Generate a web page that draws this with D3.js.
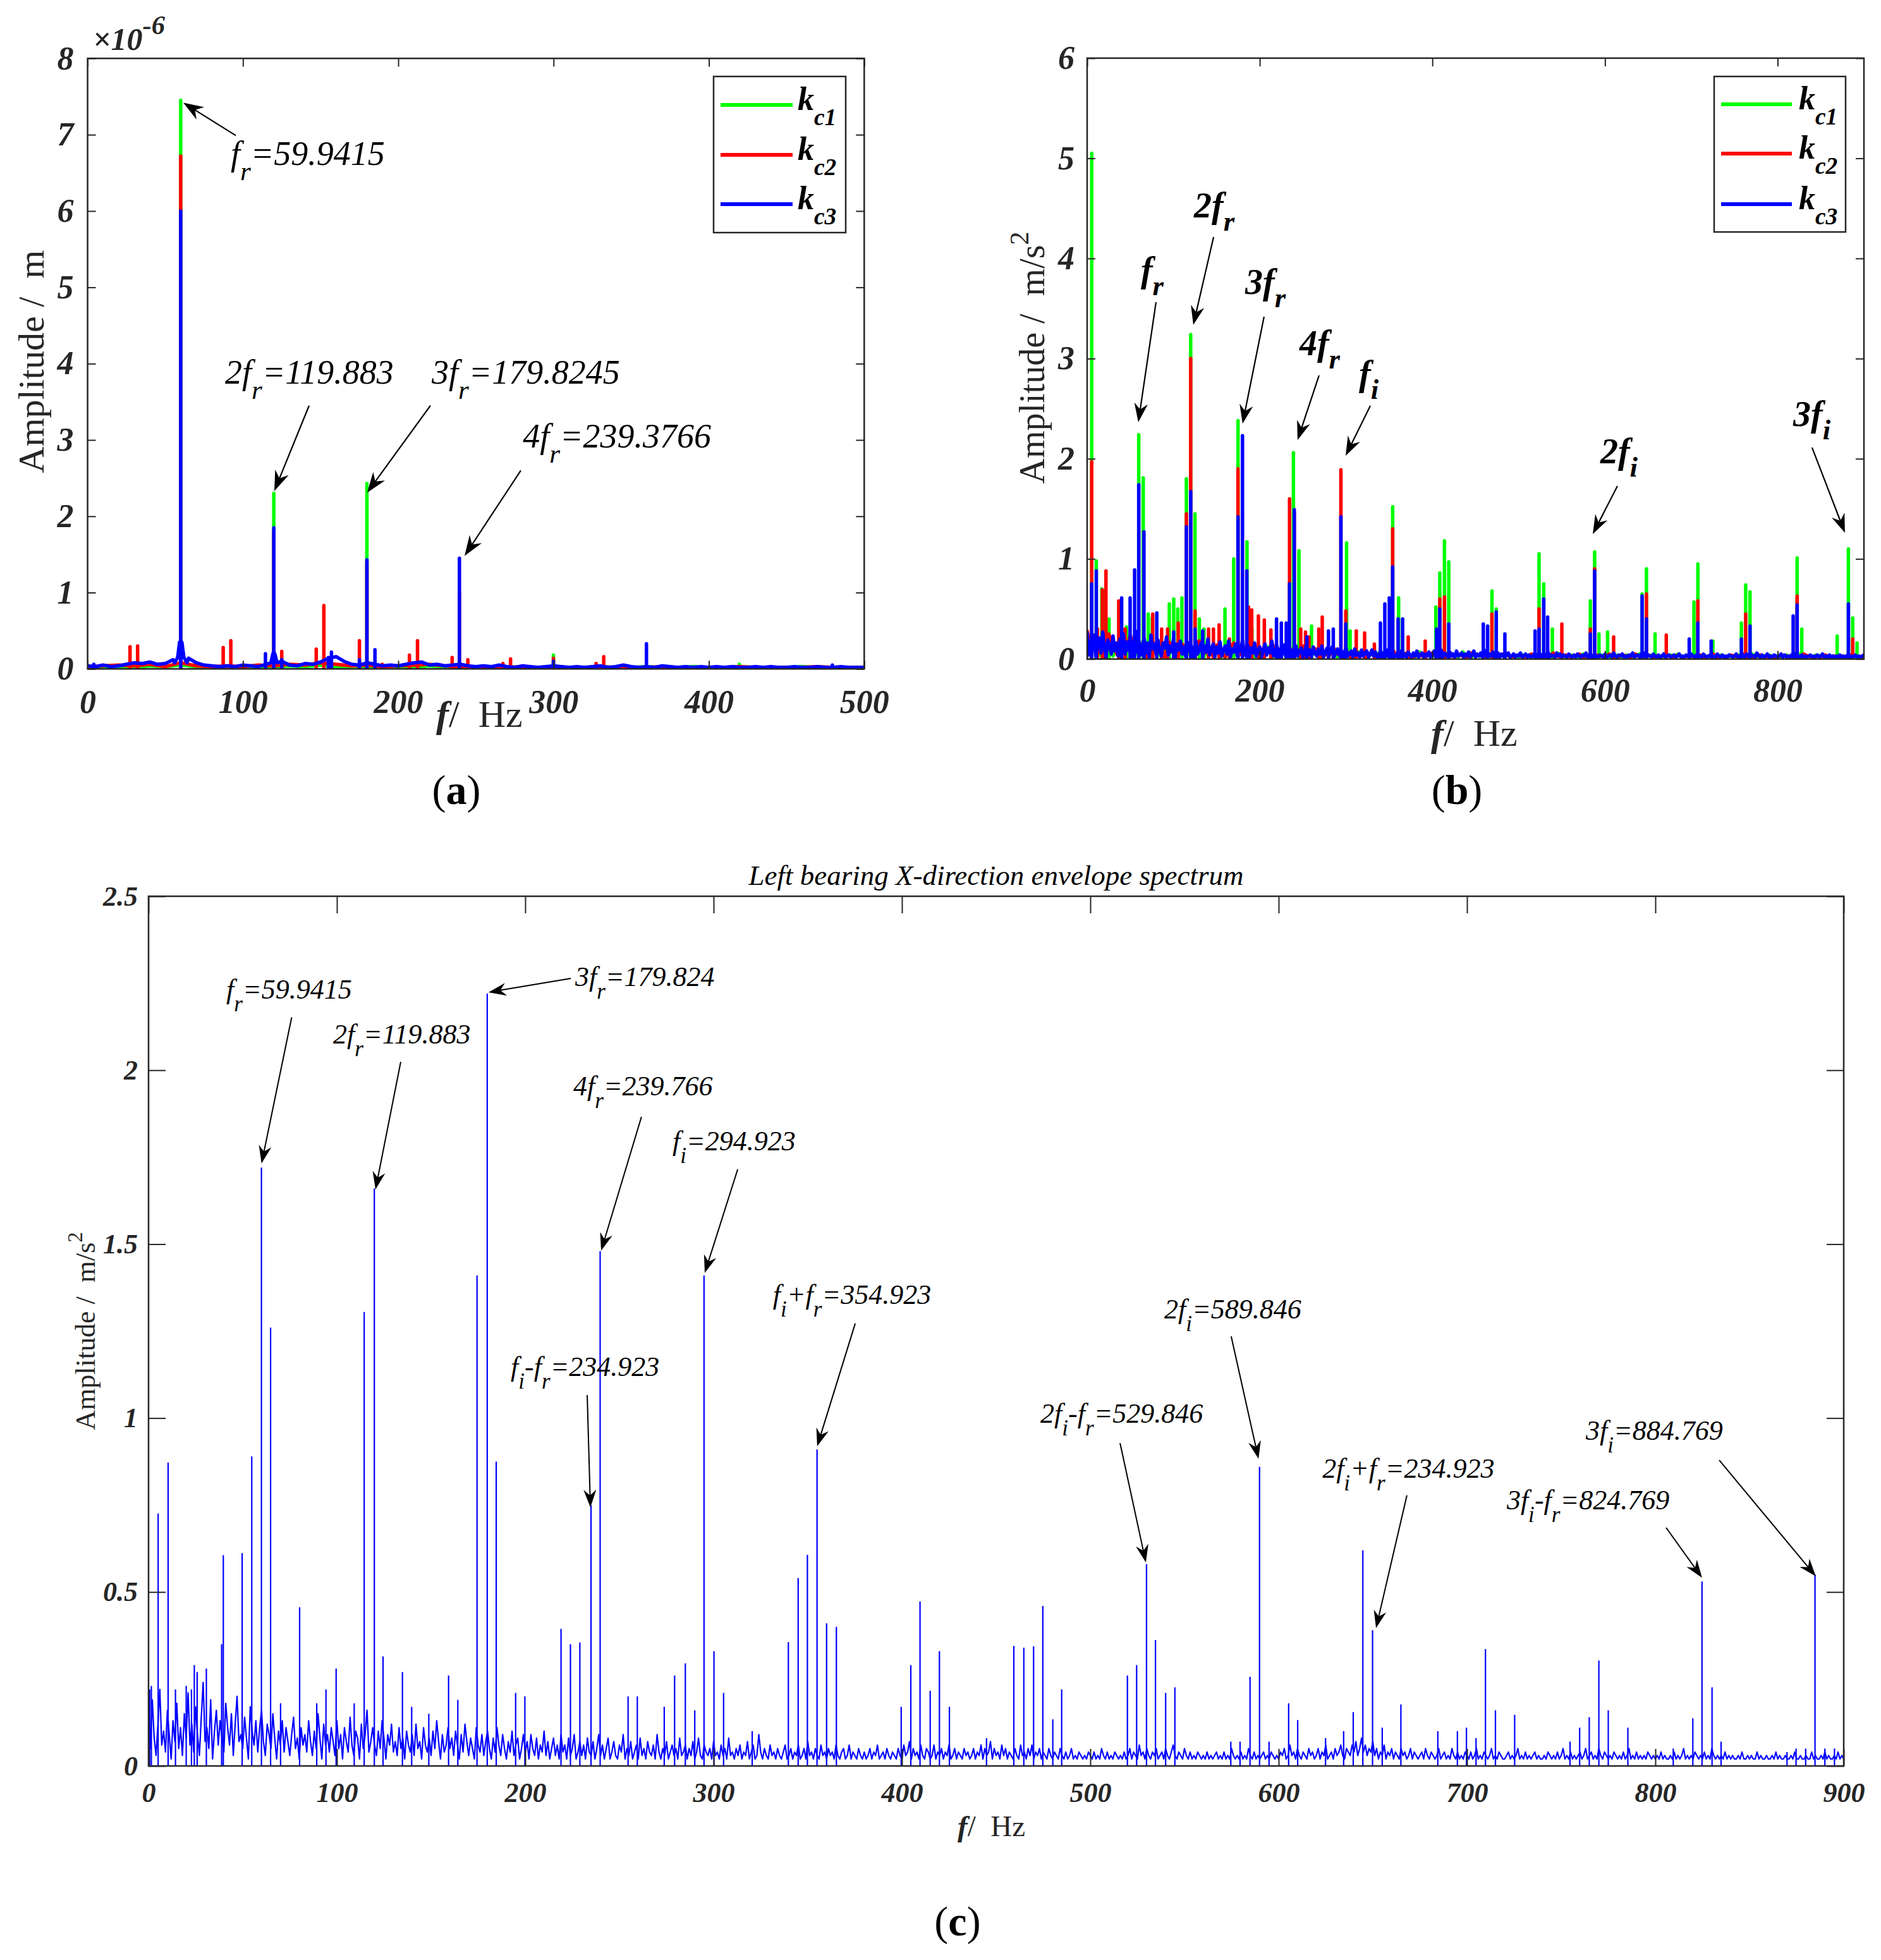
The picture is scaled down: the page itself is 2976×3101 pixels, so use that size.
<!DOCTYPE html>
<html>
<head>
<meta charset="utf-8">
<script src="https://cdn.jsdelivr.net/npm/d3@7/dist/d3.min.js"></script>
<style>
  body { margin: 0; background: #fff; }
  svg { display: block; }
</style>
</head>
<body>
<svg id="fig"></svg>
<script>
// ---------------------------------------------------------------------------
// Data
// ---------------------------------------------------------------------------

// (a) displacement spectrum, amplitude in 1e-6 m
const aXTicks = [0, 100, 200, 300, 400, 500];
const aYTicks = [0, 1, 2, 3, 4, 5, 6, 7, 8];
// noise floor, hundredths of 1e-6 m, blue every 5 Hz, green/red every 10 Hz
const aNoiseBlue = [4, 3, 5, 3, 4, 6, 8, 7, 9, 6, 7, 12, 10, 14, 8, 5, 4, 3, 4, 3,
  5, 4, 3, 6, 8, 10, 5, 4, 7, 6, 9, 14, 16, 10, 6, 5, 8, 6, 4, 5,
  4, 6, 8, 9, 5, 6, 4, 5, 6, 4, 3, 4, 3, 5, 3, 2, 4, 3, 2, 3,
  4, 3, 2, 3, 2, 3, 4, 2, 3, 5, 3, 2, 3, 2, 4, 3, 2, 3, 2, 3,
  2, 3, 2, 3, 2, 2, 3, 2, 3, 2, 2, 3, 2, 2, 3, 2, 2, 3, 2, 2, 2];
const aNoiseGreen = [2, 3, 3, 2, 4, 3, 5, 3, 2, 3, 3, 2, 3, 4, 3, 5, 3, 2, 3, 2,
  3, 2, 4, 3, 2, 3, 2, 3, 2, 2, 3, 2, 2, 3, 2, 2, 3, 2, 2, 3, 2, 2, 3, 2, 2, 2, 3, 2, 2, 2, 2];
const aNoiseRed = [3, 4, 5, 4, 6, 3, 8, 4, 3, 4, 3, 5, 4, 6, 5, 8, 6, 4, 5, 3,
  4, 5, 6, 4, 3, 2, 3, 2, 3, 2, 3, 2, 2, 3, 2, 2, 2, 3, 2, 2, 2, 2, 3, 2, 2, 2, 2, 3, 2, 2, 2];
const aSkirtBlue = [[56, 0.08], [58, 0.15], [59.2, 0.35], [60.7, 0.35], [62, 0.15], [64, 0.08],
  [118, 0.08], [119.3, 0.2], [120.5, 0.2], [122, 0.08]];
const aPeaksGreen = [[59.94, 7.45], [119.88, 2.3], [179.82, 2.43], [299.9, 0.18], [419.6, 0.06]];
const aPeaksRed = [[27.3, 0.29], [32.2, 0.3], [59.94, 6.72], [87.3, 0.28], [92.2, 0.37], [119.88, 1.8], [125, 0.23],
  [147.2, 0.26], [152.1, 0.83], [175, 0.37], [179.82, 1.4], [189.7, 0.06], [207.2, 0.18], [212.4, 0.37],
  [234.7, 0.15], [239.38, 1.0], [244.8, 0.12], [267.4, 0.07], [272.3, 0.13], [299.9, 0.14], [327.4, 0.07], [332.3, 0.16]];
const aPeaksBlue = [[4, 0.06], [59.94, 6.0], [114.5, 0.2], [119.88, 1.85], [125, 0.12], [155, 0.15], [157, 0.22],
  [175, 0.12], [179.82, 1.43], [185, 0.25], [239.38, 1.45], [299.9, 0.1], [359.8, 0.33], [479.5, 0.05]];

// (b) acceleration spectrum, m/s^2
const bXTicks = [0, 200, 400, 600, 800];
const bYTicks = [0, 1, 2, 3, 4, 5, 6];
// noise floor in hundredths of m/s^2: blue every 2 Hz, green/red every 5 Hz
const bNoiseBlue = [
  26, 4, 18, 9, 24, 3, 15, 21, 6, 27, 11, 2, 19, 14, 5, 23, 8, 16, 3, 20,
  12, 25, 5, 17, 9, 22, 2, 14, 28, 7, 18, 4, 13, 21, 6, 16, 2, 24, 10, 15,
  5, 19, 8, 3, 16, 11, 22, 4, 13, 7, 20, 2, 15, 9, 18, 5, 12, 3, 17, 8,
  14, 2, 11, 18, 5, 9, 16, 3, 13, 7, 20, 4, 10, 15, 2, 12, 6, 17, 3, 9,
  13, 5, 18, 2, 10, 7, 15, 3, 12, 8, 19, 4, 9, 14, 2, 11, 6, 16, 3, 8,
  12, 2, 9, 15, 4, 11, 6, 18, 3, 8, 13, 2, 10, 5, 14, 3, 7, 12, 2, 9,
  5, 13, 3, 8, 11, 2, 7, 14, 4, 9, 2, 12, 6, 3, 10, 5, 13, 2, 7, 11,
  3, 8, 12, 2, 6, 10, 4, 9, 2, 7, 11, 3, 5, 8, 2, 10, 4, 6, 2, 9,
  3, 6, 8, 2, 5, 9, 3, 7, 2, 4, 8, 2, 6, 3, 9, 2, 5, 7, 2, 4,
  6, 2, 8, 3, 5, 2, 7, 4, 2, 6, 3, 8, 2, 4, 6, 2, 5, 3, 7, 2,
  4, 8, 2, 5, 3, 9, 2, 6, 4, 2, 7, 3, 5, 2, 8, 3, 4, 6, 2, 5,
  3, 7, 2, 4, 8, 2, 5, 3, 6, 2, 9, 4, 2, 5, 3, 7, 2, 4, 6, 2,
  5, 3, 2, 4, 6, 2, 3, 5, 2, 4, 3, 6, 2, 3, 5, 2, 4, 2, 3, 5,
  2, 4, 6, 3, 2, 5, 3, 7, 2, 4, 3, 2, 6, 3, 5, 2, 4, 3, 2, 5,
  3, 2, 4, 2, 5, 3, 2, 4, 3, 6, 2, 3, 4, 2, 5, 3, 2, 4, 3, 2,
  5, 2, 3, 4, 2, 6, 3, 2, 4, 3, 5, 2, 3, 2, 4, 3, 6, 2, 3, 4,
  2, 5, 3, 6, 2, 4, 3, 2, 5, 3, 2, 4, 2, 3, 5, 2, 3, 4, 2, 3,
  4, 2, 3, 5, 2, 3, 2, 4, 3, 2, 5, 3, 2, 4, 2, 3, 2, 5, 3, 2,
  3, 4, 2, 3, 2, 5, 3, 2, 4, 2, 3, 2, 4, 3, 2, 3, 5, 2, 3, 2,
  4, 2, 5, 3, 2, 4, 3, 2, 6, 3, 2, 4, 2, 3, 5, 2, 3, 2, 4, 3,
  2, 3, 5, 2, 4, 2, 3, 2, 4, 3, 5, 2, 3, 2, 4, 2, 3, 2, 3, 4,
  2, 3, 2, 4, 2, 3, 5, 2, 3, 2, 4, 2, 3, 2, 3, 2, 4, 2, 3, 2,
  3, 5, 2, 3, 2, 4, 2, 3, 2, 3, 4];
const bNoiseGreen = [
  24, 8, 18, 4, 21, 12, 3, 16, 9, 26, 5, 14, 2, 19, 10, 6, 15, 3, 11, 7,
  13, 4, 9, 16, 2, 10, 6, 14, 3, 8, 12, 2, 7, 15, 4, 9, 3, 11, 6, 2,
  9, 4, 12, 2, 7, 10, 3, 6, 2, 11, 5, 8, 3, 9, 2, 6, 4, 10, 2, 5,
  6, 3, 2, 7, 4, 2, 5, 3, 8, 2, 4, 3, 6, 2, 5, 3, 2, 7, 3, 4,
  3, 5, 2, 6, 3, 4, 2, 7, 3, 2, 5, 3, 4, 2, 6, 2, 3, 5, 2, 4,
  2, 4, 3, 2, 5, 2, 3, 4, 2, 6, 3, 2, 4, 3, 2, 5, 3, 2, 3, 4,
  3, 2, 5, 3, 2, 4, 2, 3, 5, 2, 3, 4, 2, 3, 2, 4, 3, 5, 2, 3,
  2, 4, 3, 2, 3, 5, 2, 4, 2, 3, 2, 4, 3, 2, 5, 3, 2, 3, 4, 2,
  3, 2, 4, 2, 3, 5, 2, 3, 2, 4, 3, 2, 3, 2, 4, 2, 3, 2, 3, 2,
  2];
const bNoiseRed = [
  28, 6, 22, 10, 3, 25, 14, 4, 19, 8, 24, 5, 16, 11, 3, 20, 7, 13, 2, 17,
  9, 3, 15, 6, 12, 2, 18, 5, 10, 4, 14, 7, 2, 11, 16, 3, 8, 13, 4, 9,
  12, 3, 7, 14, 2, 9, 5, 11, 3, 8, 13, 2, 6, 10, 4, 7, 2, 12, 5, 3,
  8, 2, 5, 3, 7, 2, 6, 4, 2, 5, 3, 8, 2, 4, 6, 2, 3, 5, 2, 4,
  6, 2, 4, 3, 7, 2, 5, 3, 2, 6, 3, 4, 2, 5, 3, 2, 4, 6, 2, 3,
  4, 2, 3, 5, 2, 4, 3, 2, 6, 3, 2, 4, 2, 3, 5, 2, 3, 2, 4, 3,
  2, 5, 3, 2, 4, 3, 2, 5, 2, 3, 4, 2, 3, 2, 5, 3, 2, 4, 2, 3,
  3, 2, 4, 2, 3, 5, 2, 3, 2, 4, 3, 2, 5, 3, 2, 3, 4, 2, 3, 2,
  2, 4, 3, 2, 3, 2, 5, 3, 2, 3, 2, 4, 2, 3, 2, 3, 2, 4, 3, 2,
  3];
const bPeaksGreen = [[5.3, 5.05], [10.6, 0.98], [17, 0.7], [19, 0.68], [25.4, 0.4], [45.5, 0.32], [59.8, 2.24],
  [65, 1.81], [70.8, 0.45], [75.4, 0.41], [95.2, 0.55], [100.3, 0.6], [105, 0.5], [109.8, 0.61], [115, 1.8],
  [120, 3.24], [125, 1.45], [130, 0.4], [135.3, 0.3], [159.7, 0.5], [169.8, 1.0], [174.8, 2.38], [185.2, 1.17],
  [191, 0.3], [239, 2.06], [245.4, 1.08], [260, 0.33], [300.6, 1.16], [304.7, 0.28], [354, 1.52], [360.9, 0.61],
  [404, 0.52], [408.6, 0.86], [414, 1.18], [419, 0.97], [469, 0.68], [474, 0.5], [523.6, 1.05], [529, 0.75],
  [539, 0.3], [583, 0.58], [588, 1.07], [593, 0.25], [603, 0.27], [643, 0.65], [648, 0.9], [658, 0.25],
  [703, 0.57], [707.6, 0.95], [725, 0.18], [758, 0.36], [763, 0.74], [768, 0.67], [822.6, 1.01], [828, 0.3],
  [869, 0.23], [882, 1.1], [887, 0.41], [892, 0.16]];
const bPeaksRed = [[5.3, 1.97], [12, 0.3], [17.6, 0.69], [21.8, 0.88], [36.6, 0.58], [44, 0.3], [68, 0.15],
  [76, 0.45], [86.3, 0.3], [93.2, 0.3], [105.5, 0.36], [115, 1.45], [120, 3.0], [125, 0.48], [140.7, 0.3],
  [146.3, 0.3], [152.9, 0.34], [164.8, 0.2], [174.8, 1.9], [187, 0.52], [190.7, 0.49], [198.4, 0.43],
  [205.3, 0.39], [212.9, 0.29], [234.5, 1.6], [240, 1.45], [247.5, 0.3], [253, 0.27], [257, 0.22],
  [268.4, 0.3], [272.4, 0.42], [294, 1.89], [299.7, 0.48], [311.8, 0.28], [321.5, 0.26], [332.8, 0.15],
  [354, 1.3], [372, 0.22], [391.7, 0.18], [408.6, 0.6], [414, 0.62], [469, 0.45], [523.6, 0.5], [550, 0.35],
  [583, 0.3], [588, 0.9], [610, 0.22], [648, 0.65], [671, 0.24], [707.6, 0.58], [763, 0.45], [822.6, 0.63], [887, 0.2]];
const bPeaksBlue = [[5.3, 0.75], [10.6, 0.88], [40, 0.61], [49.8, 0.61], [55, 0.89], [59.8, 1.74], [65.8, 1.27],
  [80.7, 0.46], [100.3, 0.27], [115, 1.32], [120, 1.67], [125, 0.3], [133.9, 0.28], [174.8, 1.42], [180, 2.23],
  [185, 0.88], [219.4, 0.4], [225, 0.36], [230.7, 0.36], [234.5, 0.75], [240, 1.49], [254.6, 0.22],
  [279.6, 0.28], [285.2, 0.3], [294, 1.42], [299.7, 0.35], [339.8, 0.36], [344.9, 0.55], [350.1, 0.61],
  [354, 0.92], [360.3, 0.4], [365.5, 0.4], [404.9, 0.3], [408.6, 0.5], [419, 0.35], [459, 0.35], [464, 0.33],
  [474, 0.47], [484, 0.25], [519, 0.28], [523.6, 0.3], [529, 0.6], [533.5, 0.42], [583, 0.25], [588, 0.88],
  [643, 0.63], [648, 0.4], [697.6, 0.2], [707.6, 0.36], [723, 0.18], [758, 0.2], [768, 0.33], [818, 0.43],
  [822.6, 0.54], [882, 0.55]];

// (c) envelope spectrum, m/s^2
const cXTicks = [0, 100, 200, 300, 400, 500, 600, 700, 800, 900];
const cYTicks = [0, 0.5, 1, 1.5, 2, 2.5];
// noise floor every 1 Hz, hundredths of m/s^2
const cNoise = [
  14, 5, 19, 8, 3, 12, 22, 6, 10, 4, 16, 9, 2, 13, 7, 18, 5, 11, 3, 15,
  8, 21, 6, 12, 4, 17, 9, 3, 14, 24, 7, 11, 5, 19, 2, 10, 16, 6, 13, 8,
  4, 18, 11, 6, 15, 3, 12, 20, 7, 9, 5, 14, 8, 2, 17, 10, 6, 13, 4, 11,
  16, 7, 3, 12, 9, 5, 15, 8, 2, 10, 6, 13, 4, 11, 7, 3, 9, 14, 5, 8,
  2, 11, 6, 9, 4, 13, 7, 3, 10, 5, 15, 8, 2, 12, 6, 9, 4, 11, 7, 3,
  13, 5, 9, 2, 11, 7, 4, 14, 6, 3, 10, 8, 2, 12, 5, 9, 16, 4, 7, 11,
  6, 3, 10, 5, 13, 8, 2, 9, 6, 12, 4, 7, 3, 11, 5, 8, 2, 10, 6, 4,
  9, 3, 12, 5, 7, 2, 11, 6, 4, 8, 3, 10, 5, 13, 7, 2, 9, 4, 6, 11,
  5, 8, 3, 10, 6, 2, 9, 4, 12, 7, 3, 8, 5, 2, 11, 6, 4, 9, 3, 7,
  10, 5, 2, 8, 4, 11, 6, 3, 9, 5, 2, 7, 4, 10, 3, 6, 8, 2, 5, 9,
  4, 7, 2, 9, 5, 3, 8, 2, 6, 4, 10, 3, 7, 2, 5, 8, 3, 6, 2, 9,
  4, 6, 2, 8, 3, 5, 9, 2, 4, 7, 3, 6, 2, 8, 4, 3, 7, 2, 5, 9,
  3, 6, 2, 5, 8, 2, 4, 7, 3, 2, 6, 4, 9, 2, 5, 3, 7, 2, 4, 6,
  2, 8, 3, 5, 2, 7, 4, 3, 6, 2, 9, 4, 2, 5, 3, 7, 2, 4, 6, 3,
  5, 2, 8, 3, 4, 6, 2, 5, 3, 7, 2, 4, 8, 3, 2, 6, 4, 3, 5, 2,
  7, 3, 4, 2, 6, 3, 5, 2, 8, 3, 4, 2, 5, 3, 6, 2, 4, 3, 7, 2,
  4, 6, 2, 3, 9, 4, 2, 5, 3, 2, 6, 3, 4, 2, 5, 3, 2, 4, 6, 2,
  3, 5, 2, 4, 3, 6, 2, 3, 5, 2, 7, 3, 4, 2, 5, 3, 2, 6, 3, 4,
  2, 5, 3, 4, 2, 6, 3, 2, 4, 5, 2, 3, 6, 2, 4, 3, 2, 5, 3, 2,
  4, 2, 3, 5, 2, 4, 3, 6, 2, 3, 4, 2, 5, 3, 2, 4, 3, 2, 5, 3,
  2, 6, 3, 4, 7, 2, 5, 3, 4, 2, 6, 3, 2, 5, 4, 2, 3, 6, 2, 4,
  3, 5, 2, 4, 3, 6, 2, 3, 5, 2, 4, 3, 2, 5, 3, 4, 2, 3, 5, 2,
  4, 3, 6, 2, 5, 3, 4, 7, 2, 5, 3, 4, 2, 6, 3, 5, 2, 4, 3, 2,
  5, 3, 2, 6, 3, 4, 2, 5, 3, 6, 2, 4, 3, 5, 2, 4, 3, 2, 5, 3,
  2, 4, 3, 2, 5, 3, 2, 4, 2, 3, 5, 2, 3, 2, 4, 3, 2, 3, 2, 4,
  3, 2, 4, 2, 3, 2, 5, 3, 2, 4, 2, 3, 2, 4, 3, 2, 3, 2, 4, 2,
  3, 5, 2, 4, 3, 2, 6, 3, 4, 2, 5, 3, 2, 4, 3, 5, 2, 3, 4, 2,
  5, 3, 2, 4, 6, 3, 2, 4, 3, 2, 5, 3, 2, 4, 2, 3, 2, 4, 3, 2,
  3, 2, 4, 2, 3, 2, 3, 4, 2, 3, 2, 4, 2, 3, 2, 5, 3, 2, 3, 2,
  4, 2, 3, 2, 5, 3, 2, 4, 2, 3, 2, 3, 4, 2, 3, 2, 4, 3, 2, 3,
  2, 4, 3, 5, 2, 3, 6, 3, 4, 2, 5, 3, 2, 4, 3, 2, 5, 3, 4, 2,
  3, 5, 2, 4, 3, 6, 2, 3, 4, 2, 5, 3, 4, 6, 3, 2, 5, 4, 3, 6,
  4, 7, 3, 5, 8, 4, 6, 3, 5, 4, 7, 3, 5, 2, 4, 3, 6, 2, 4, 3,
  5, 2, 4, 3, 2, 5, 3, 4, 2, 3, 5, 2, 4, 3, 2, 3, 4, 2, 5, 3,
  2, 4, 3, 2, 3, 5, 2, 3, 4, 2, 3, 2, 5, 3, 2, 4, 2, 3, 2, 4,
  3, 2, 4, 2, 3, 5, 2, 3, 2, 4, 3, 2, 3, 5, 2, 3, 2, 4, 3, 2,
  2, 3, 4, 2, 3, 2, 3, 5, 2, 3, 2, 4, 2, 3, 2, 3, 4, 2, 3, 2,
  2, 3, 2, 4, 3, 2, 3, 2, 4, 2, 3, 5, 2, 3, 2, 4, 2, 3, 2, 3,
  4, 2, 3, 5, 2, 3, 4, 2, 3, 2, 5, 3, 2, 4, 3, 2, 3, 2, 4, 3,
  2, 3, 2, 4, 2, 3, 5, 2, 3, 2, 4, 2, 3, 2, 3, 2, 4, 3, 2, 3,
  2, 3, 2, 4, 2, 3, 2, 2, 3, 2, 4, 2, 3, 2, 3, 5, 2, 3, 2, 3,
  2, 4, 3, 2, 3, 2, 4, 2, 3, 2, 5, 3, 2, 3, 2, 3, 2, 4, 2, 3,
  2, 3, 2, 2, 3, 2, 4, 2, 2, 3, 2, 3, 2, 2, 4, 2, 3, 2, 2, 3,
  2, 2, 3, 2, 4, 2, 3, 2, 2, 3, 2, 2, 3, 2, 4, 2, 2, 3, 2, 2,
  3, 2, 2, 4, 2, 3, 2, 2, 3, 2, 4, 2, 3, 2, 2, 3, 2, 4, 2, 3,
  2];
const cPeaks = [[0.6, 0.22], [1.5, 0.23], [5.1, 0.726], [10.4, 0.872], [14.3, 0.22], [20, 0.23], [22.8, 0.22],
  [24.3, 0.29], [25.8, 0.27], [30.7, 0.28], [38.8, 0.35], [39.7, 0.606], [49.7, 0.612], [54.8, 0.89],
  [59.94, 1.72], [64.8, 1.26], [70.1, 0.18], [80.2, 0.456], [89.3, 0.18], [94.2, 0.22], [99.6, 0.28],
  [109.2, 0.18], [114.5, 1.305], [119.88, 1.66], [124.5, 0.315], [134.8, 0.27], [139.7, 0.17], [148.8, 0.15],
  [159.3, 0.26], [164.2, 0.19], [174.4, 1.41], [179.82, 2.22], [184.6, 0.875], [194.9, 0.21], [199.8, 0.2],
  [219, 0.394], [224, 0.35], [229, 0.355], [234.92, 0.75], [239.77, 1.48], [254.6, 0.2], [259.5, 0.2],
  [273.8, 0.17], [279.3, 0.26], [285, 0.295], [290, 0.16], [294.92, 1.41], [300.2, 0.33], [305.3, 0.21],
  [320.5, 0.1], [339.7, 0.356], [344.9, 0.54], [349.8, 0.607], [354.92, 0.91], [360, 0.41], [365.2, 0.4],
  [399.6, 0.17], [404.7, 0.29], [409.6, 0.473], [415, 0.216], [419.9, 0.33], [425.2, 0.17], [444.9, 0.08],
  [459.4, 0.345], [464.7, 0.34], [469.9, 0.344], [474.8, 0.46], [480.1, 0.134], [484.8, 0.22], [519.7, 0.26],
  [524.6, 0.29], [529.85, 0.58], [534.6, 0.362], [540, 0.21], [544.9, 0.226], [574.6, 0.07], [579.5, 0.07],
  [584.8, 0.256], [589.85, 0.86], [594.9, 0.07], [605.3, 0.18], [610.1, 0.132], [624.9, 0.08], [634.5, 0.1],
  [639.6, 0.155], [644.7, 0.62], [649.85, 0.39], [655, 0.11], [664.9, 0.177], [684.5, 0.1], [694.9, 0.1],
  [699.7, 0.11], [704.8, 0.08], [709.8, 0.336], [715.1, 0.16], [725.3, 0.147], [754.7, 0.07], [759.8, 0.11],
  [764.9, 0.14], [770, 0.303], [775, 0.16], [785.4, 0.11], [809.5, 0.05], [819.9, 0.137], [824.77, 0.53],
  [830.1, 0.226], [834.9, 0.07], [869.9, 0.04], [874.7, 0.05], [879.8, 0.05], [884.77, 0.55], [890, 0.05], [895.1, 0.05]];

// annotation labels: text anchor, arrow tail and arrow tip, in data units
const annA = [
  { label: 'f_{r}=59.9415', text: [92.1, 6.6], tail: [95.4, 6.99], tip: [61.6, 7.42] },
  { label: '2f_{r}=119.883', text: [88.5, 3.74], tail: [142.6, 3.45], tip: [120.2, 2.33] },
  { label: '3f_{r}=179.8245', text: [221.5, 3.74], tail: [220.7, 3.45], tip: [180.0, 2.31] },
  { label: '4f_{r}=239.3766', text: [280.2, 2.9], tail: [278.9, 2.6], tip: [242.7, 1.48] }
];
const annB = [
  { label: 'f_{r}', text: [62.2, 3.765], tail: [79.8, 3.563], tip: [59.3, 2.365] },
  { label: '2f_{r}', text: [123.8, 4.409], tail: [146.5, 4.214], tip: [123.0, 3.337] },
  { label: '3f_{r}', text: [183.1, 3.646], tail: [205.0, 3.419], tip: [180.1, 2.351] },
  { label: '4f_{r}', text: [246.0, 3.034], tail: [268.7, 2.832], tip: [243.8, 2.187] },
  { label: 'f_{i}', text: [314.9, 2.731], tail: [328.1, 2.529], tip: [299.5, 2.03] },
  { label: '2f_{i}', text: [594.6, 1.955], tail: [614.4, 1.728], tip: [585.8, 1.248] },
  { label: '3f_{i}', text: [818.0, 2.327], tail: [839.9, 2.112], tip: [878.0, 1.26] }
];
const annC = [
  { label: 'f_{r}=59.9415', text: [41.3, 2.206], tail: [76.0, 2.152], tip: [60.0, 1.732] },
  { label: '2f_{r}=119.883', text: [98.0, 2.077], tail: [133.9, 2.024], tip: [120.5, 1.657] },
  { label: '3f_{r}=179.824', text: [226.5, 2.242], tail: [224.2, 2.264], tip: [180.5, 2.224] },
  { label: '4f_{r}=239.766', text: [225.5, 1.927], tail: [261.7, 1.866], tip: [240.3, 1.481] },
  { label: 'f_{i}=294.923', text: [278.2, 1.77], tail: [312.8, 1.715], tip: [295.3, 1.417] },
  { label: 'f_{i}+f_{r}=354.923', text: [331.5, 1.328], tail: [375.2, 1.272], tip: [355.0, 0.919] },
  { label: 'f_{i}-f_{r}=234.923', text: [192.3, 1.121], tail: [232.9, 1.066], tip: [234.6, 0.743] },
  { label: '2f_{i}-f_{r}=529.846', text: [473.5, 0.987], tail: [515.8, 0.928], tip: [529.5, 0.585] },
  { label: '2f_{i}=589.846', text: [539.3, 1.286], tail: [574.8, 1.235], tip: [589.3, 0.883] },
  { label: '2f_{i}+f_{r}=234.923', text: [623.2, 0.828], tail: [668.1, 0.778], tip: [651.7, 0.396] },
  { label: '3f_{i}-f_{r}=824.769', text: [721.1, 0.738], tail: [805.7, 0.685], tip: [824.8, 0.541] },
  { label: '3f_{i}=884.769', text: [763.1, 0.9375], tail: [833.9, 0.879], tip: [885.2, 0.545] }
];

const legendLabels = ['c1', 'c2', 'c3'];
const seriesColors = ['#00ff00', '#ff0000', '#0000ff'];

// ---------------------------------------------------------------------------
// Drawing
// ---------------------------------------------------------------------------
const W = 2976, H = 3101;
const fontFam = '"Liberation Serif","Times New Roman",Times,serif';
const ink = '#262626';

const svg = d3.select('#fig').attr('width', W).attr('height', H);
svg.append('rect').attr('width', W).attr('height', H).attr('fill', '#fff');
const defs = svg.append('defs');

// text with _{sub} and ^{sup} parts
function rich(t, str, size, ratio = 0.78, shift = 0.42) {
  const parts = str.split(/(_\{[^}]*\}|\^\{[^}]*\})/).filter(s => s.length);
  let cur = 0;
  parts.forEach(p => {
    let txt = p, off = 0, fs = size;
    if (p.startsWith('_{')) { txt = p.slice(2, -1); off = shift * size; fs = size * ratio; }
    else if (p.startsWith('^{')) { txt = p.slice(2, -1); off = -shift * size; fs = size * ratio; }
    t.append('tspan').attr('dy', off - cur).attr('font-size', fs).text(txt);
    cur = off;
  });
  return t;
}

function frame(id, box, xDom, yDom) {
  const x = d3.scaleLinear().domain(xDom).range([box.l, box.r]);
  const y = d3.scaleLinear().domain(yDom).range([box.b, box.t]);
  const g = svg.append('g');
  defs.append('clipPath').attr('id', id).append('rect')
    .attr('x', box.l).attr('y', box.t).attr('width', box.r - box.l).attr('height', box.b - box.t);
  const plot = g.append('g').attr('clip-path', `url(#${id})`);
  return { x, y, g, plot, box };
}

function axes(fr, xt, yt, st) {
  const { x, y, g, box } = fr;
  const fmt = d => String(d);
  const style = sel => {
    sel.select('.domain').remove();
    sel.selectAll('.tick line').attr('stroke', ink).attr('stroke-width', st.tw);
    sel.selectAll('.tick text')
      .attr('fill', ink).attr('font-size', st.tick).attr('font-family', fontFam)
      .attr('font-weight', 'bold').attr('font-style', 'italic');
  };
  g.append('g').attr('transform', `translate(0,${box.b})`)
    .call(d3.axisBottom(x).tickValues(xt).tickFormat(fmt).tickSize(-st.tl).tickPadding(st.xpad)).call(style);
  g.append('g').attr('transform', `translate(0,${box.t})`)
    .call(d3.axisTop(x).tickValues(xt).tickFormat('').tickSize(-st.tl)).call(style);
  g.append('g').attr('transform', `translate(${box.l},0)`)
    .call(d3.axisLeft(y).tickValues(yt).tickFormat(fmt).tickSize(-st.tl).tickPadding(st.ypad)).call(style);
  g.append('g').attr('transform', `translate(${box.r},0)`)
    .call(d3.axisRight(y).tickValues(yt).tickFormat('').tickSize(-st.tl)).call(style);
  g.append('rect').attr('x', box.l).attr('y', box.t)
    .attr('width', box.r - box.l).attr('height', box.b - box.t)
    .attr('fill', 'none').attr('stroke', ink).attr('stroke-width', st.bw);
}

function spectrum(fr, noise, step, extra, peaks, color, w, cap) {
  const pts = noise.map((v, i) => [i * step, v / 100]).concat(extra).sort((p, q) => p[0] - q[0]);
  const line = d3.line().x(d => fr.x(d[0])).y(d => fr.y(d[1]));
  fr.plot.append('path').datum(pts).attr('d', line)
    .attr('fill', 'none').attr('stroke', color).attr('stroke-width', w)
    .attr('stroke-linejoin', 'round').attr('stroke-linecap', cap);
  fr.plot.append('g').selectAll('line').data(peaks).join('line')
    .attr('x1', d => fr.x(d[0])).attr('x2', d => fr.x(d[0]))
    .attr('y1', fr.y(0)).attr('y2', d => fr.y(d[1]))
    .attr('stroke', color).attr('stroke-width', w).attr('stroke-linecap', cap);
}

function arrow(g, x1, y1, x2, y2, st) {
  const ang = Math.atan2(y2 - y1, x2 - x1);
  const back = st.head * 0.6;
  g.append('line')
    .attr('x1', x1).attr('y1', y1)
    .attr('x2', x2 - back * Math.cos(ang)).attr('y2', y2 - back * Math.sin(ang))
    .attr('stroke', '#000').attr('stroke-width', st.lw);
  const L = st.head, hw = st.head * 0.36;
  g.append('path')
    .attr('d', `M0,0L${-L},${-hw}L${-L * 0.68},0L${-L},${hw}Z`)
    .attr('transform', `translate(${x2},${y2}) rotate(${ang * 180 / Math.PI})`)
    .attr('fill', '#000');
}

function annotate(fr, list, st) {
  const { x, y, g } = fr;
  list.forEach(d => {
    const t = g.append('text')
      .attr('x', x(d.text[0])).attr('y', y(d.text[1]))
      .attr('font-family', fontFam).attr('font-size', st.size)
      .attr('font-style', 'italic').attr('font-weight', st.weight).attr('fill', '#000');
    rich(t, d.label, st.size, st.ratio, st.shift);
    arrow(g, x(d.tail[0]), y(d.tail[1]), x(d.tip[0]), y(d.tip[1]), st);
  });
}

function xLabel(x, y, size) {
  const t = svg.append('text').attr('x', x).attr('y', y)
    .attr('font-family', fontFam).attr('font-size', size).attr('fill', ink);
  t.append('tspan').attr('font-weight', 'bold').attr('font-style', 'italic').text('f');
  t.append('tspan').text('/\u00a0 Hz');
}

function yLabel(x, y, size, unit) {
  const t = svg.append('text')
    .attr('transform', `translate(${x},${y}) rotate(-90)`)
    .attr('text-anchor', 'middle')
    .attr('font-family', fontFam).attr('font-size', size).attr('fill', ink);
  rich(t, 'Amplitude /\u00a0 ' + unit, size, 0.75, 0.45);
}

function legend(box, rows, lineX, textX, w) {
  svg.append('rect').attr('x', box.l).attr('y', box.t)
    .attr('width', box.r - box.l).attr('height', box.b - box.t)
    .attr('fill', '#fff').attr('stroke', ink).attr('stroke-width', 2.5);
  legendLabels.forEach((lab, i) => {
    svg.append('line').attr('x1', lineX[0]).attr('x2', lineX[1])
      .attr('y1', rows[i]).attr('y2', rows[i])
      .attr('stroke', seriesColors[i]).attr('stroke-width', w);
    const t = svg.append('text').attr('x', textX).attr('y', rows[i] + 8)
      .attr('font-family', fontFam).attr('font-size', 52)
      .attr('font-weight', 'bold').attr('font-style', 'italic').attr('fill', '#000');
    rich(t, 'k_{' + lab + '}', 52, 0.72, 0.46);
  });
}

function panelTag(x, y, letter) {
  const t = svg.append('text').attr('x', x).attr('y', y).attr('text-anchor', 'middle')
    .attr('font-family', fontFam).attr('font-size', 66).attr('fill', '#000');
  t.append('tspan').text('(');
  t.append('tspan').attr('font-weight', 'bold').text(letter);
  t.append('tspan').text(')');
}

// ---------------- panel (a) ----------------
const fa = frame('clipA', { l: 138.6, r: 1367.3, t: 92.4, b: 1058.3 }, [0, 500], [0, 8]);
spectrum(fa, aNoiseGreen, 10, [], aPeaksGreen, seriesColors[0], 5.5, 'round');
spectrum(fa, aNoiseRed, 10, [], aPeaksRed, seriesColors[1], 5.5, 'round');
spectrum(fa, aNoiseBlue, 5, aSkirtBlue, aPeaksBlue, seriesColors[2], 5.5, 'round');
axes(fa, aXTicks, aYTicks, { tl: 13, tw: 2, bw: 2.5, tick: 52, xpad: 33, ypad: 22 });
annotate(fa, annA, { size: 54, weight: 'normal', ratio: 0.8, shift: 0.44, lw: 2.2, head: 32 });
legend({ l: 1129, r: 1338, t: 121, b: 368 }, [166, 245, 323], [1140, 1254], 1262, 6);
{
  const t = svg.append('text').attr('x', 147).attr('y', 79)
    .attr('font-family', fontFam).attr('font-size', 50).attr('fill', ink)
    .attr('font-style', 'italic').attr('font-weight', 'bold');
  rich(t, '\u00d710^{-6}', 50, 0.85, 0.5);
}
xLabel(690, 1150, 60);
yLabel(69, 572, 58, 'm');
panelTag(722, 1272, 'a');

// ---------------- panel (b) ----------------
const fb = frame('clipB', { l: 1720, r: 2949, t: 92, b: 1042.7 }, [0, 900], [0, 6]);
spectrum(fb, bNoiseGreen, 5, [], bPeaksGreen, seriesColors[0], 5.5, 'round');
spectrum(fb, bNoiseRed, 5, [], bPeaksRed, seriesColors[1], 5.5, 'round');
spectrum(fb, bNoiseBlue, 2, [], bPeaksBlue, seriesColors[2], 5.5, 'round');
axes(fb, bXTicks, bYTicks, { tl: 13, tw: 2, bw: 2.5, tick: 52, xpad: 30, ypad: 20 });
annotate(fb, annB, { size: 56, weight: 'bold', ratio: 0.8, shift: 0.38, lw: 2.2, head: 30 });
legend({ l: 2712, r: 2920, t: 121, b: 367 }, [165, 243, 323], [2723, 2835], 2846, 6);
xLabel(2264, 1180, 60);
yLabel(1652, 566, 56, 'm/s^{2}');
panelTag(2305, 1272, 'b');

// ---------------- panel (c) ----------------
const fc = frame('clipC', { l: 235, r: 2917, t: 1418, b: 2794 }, [0, 900], [0, 2.5]);
spectrum(fc, cNoise, 1, [], cPeaks, seriesColors[2], 2.2, 'butt');
axes(fc, cXTicks, cYTicks, { tl: 27, tw: 2, bw: 2.5, tick: 44, xpad: 26, ypad: 17 });
annotate(fc, annC, { size: 44, weight: 'normal', ratio: 0.8, shift: 0.45, lw: 2, head: 28 });
svg.append('text').attr('x', 1576).attr('y', 1400).attr('text-anchor', 'middle')
  .attr('font-family', fontFam).attr('font-size', 45).attr('font-style', 'italic').attr('fill', '#000')
  .text('Left bearing X-direction envelope spectrum');
xLabel(1515, 2905, 47);
yLabel(150, 2106, 44, 'm/s^{2}');
panelTag(1515, 3062, 'c');
</script>
</body>
</html>
